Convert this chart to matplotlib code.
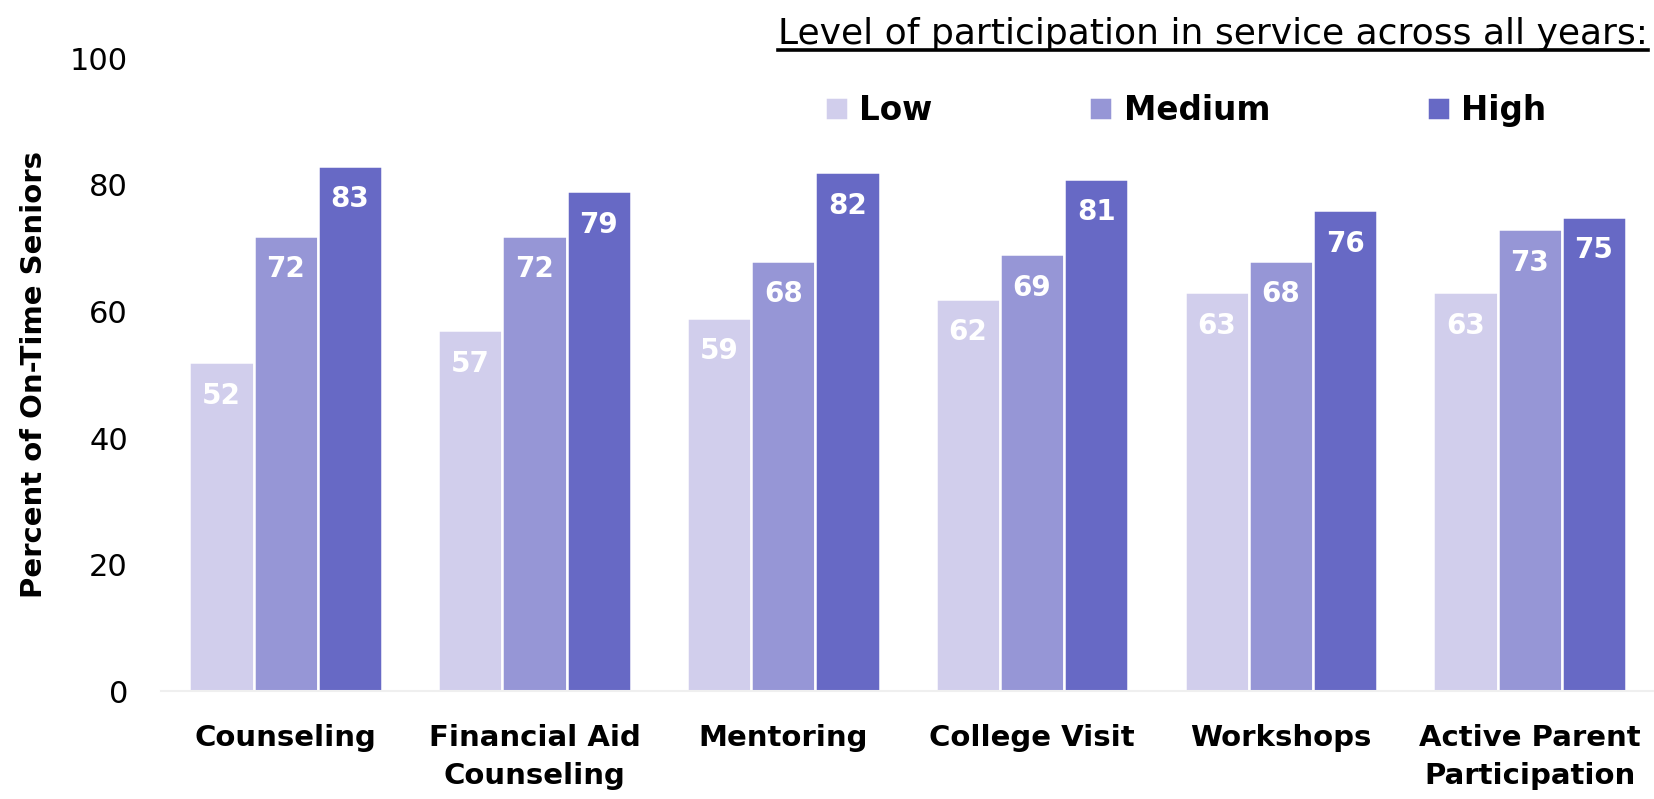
import numpy as np
import matplotlib
matplotlib.use("Agg")
import matplotlib.pyplot as plt
from matplotlib.lines import Line2D

plt.rcParams["font.family"] = ["DejaVu Sans"]

# ── data ───────────────────────────────────────────────
services = ["Counseling", "Financial Aid\nCounseling", "Mentoring",
            "College Visit", "Workshops", "Active Parent\nParticipation"]
low = [52, 57, 59, 62, 63, 63]
medium = [72, 72, 68, 69, 68, 73]
high = [83, 79, 82, 81, 76, 75]
levels = ["Low", "Medium", "High"]
colors = ["#D1CEEC", "#9696D6", "#6769C5"]
yticks = [0, 20, 40, 60, 80, 100]

fig = plt.figure(figsize=(16.54, 7.99), dpi=100)
ax = fig.add_axes([0.0975, 0.135, 0.9025, 0.792])

x = np.arange(len(services))
w = 0.258
for i, (vals, lab, col) in enumerate(zip([low, medium, high], levels, colors)):
    bars = ax.bar(x + (i - 1) * w, vals, w, color=col, edgecolor="white",
                  linewidth=1.8, label=lab)
    for b in bars:
        h = b.get_height()
        ax.text(b.get_x() + b.get_width() / 2, h - 5.3, f"{int(h)}",
                ha="center", va="center", color="white", fontsize=20,
                fontweight="bold")

ax.set_xlim(-0.5, 5.5)
ax.set_ylim(0, 100)
ax.set_yticks(yticks)
ax.set_xticks(x)
ax.set_xticklabels(services, fontsize=21, fontweight="bold", linespacing=1.45)
ax.tick_params(axis="x", length=0, pad=24)
ax.tick_params(axis="y", length=0, labelsize=22, pad=24)
for s in ["top", "right", "left"]:
    ax.spines[s].set_visible(False)
ax.spines["bottom"].set_color("#EFEFEF")
ax.spines["bottom"].set_linewidth(1.5)
ax.set_ylabel("Percent of On-Time Seniors", fontsize=21, fontweight="bold",
              labelpad=16)

leg = ax.legend(loc="center left", bbox_to_anchor=(0.425, 0.918), ncol=3,
                frameon=False, handlelength=0.7, handleheight=0.7,
                handletextpad=0.35, columnspacing=4.8,
                prop={"weight": "bold", "size": 23.5})

title = fig.text(0.9965, 0.957, "Level of participation in service across all years:",
                 ha="right", va="center", fontsize=26)
fig.canvas.draw()
bb = title.get_window_extent(fig.canvas.get_renderer())
bb = bb.transformed(fig.transFigure.inverted())
fig.add_artist(Line2D([bb.x0, bb.x1], [bb.y0 + 0.002, bb.y0 + 0.002],
                      transform=fig.transFigure, color="black", linewidth=2.6))

fig.savefig("out.png", dpi=100)
